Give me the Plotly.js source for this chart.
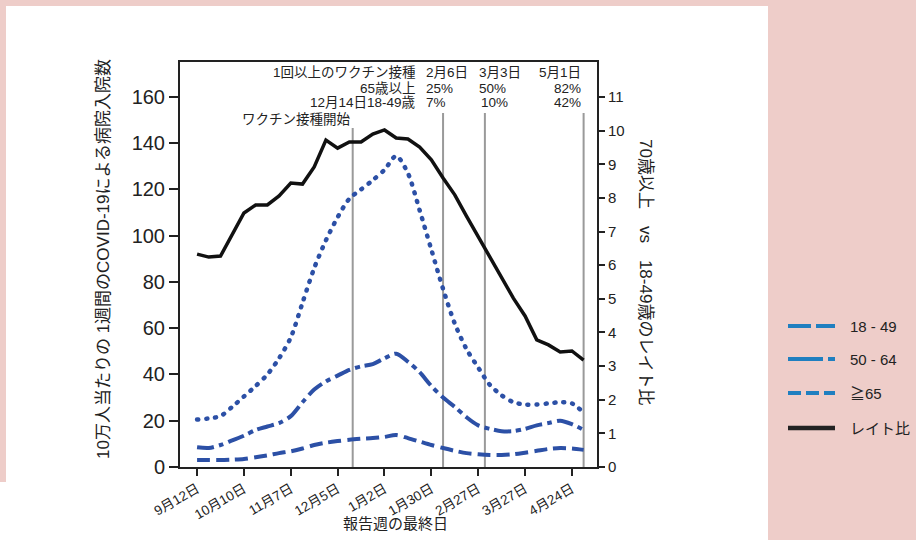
<!DOCTYPE html>
<html>
<head>
<meta charset="utf-8">
<script src="https://cdn.plot.ly/plotly-3.0.1.min.js"></script>
<style>
html,body{margin:0;padding:0;background:#eecdc9;}
#chart{width:916px;height:540px;}
.scatterlayer .trace:nth-child(3) .js-line{stroke-linecap:round;}
</style>
</head>
<body>
<div id="chart"></div>
<script>
// ---- data ----
const weeks = ['2020-09-12','2020-09-19','2020-09-26','2020-10-03','2020-10-10','2020-10-17','2020-10-24','2020-10-31',
  '2020-11-07','2020-11-14','2020-11-21','2020-11-28','2020-12-05','2020-12-12','2020-12-19','2020-12-26',
  '2021-01-02','2021-01-09','2021-01-16','2021-01-23','2021-01-30','2021-02-06','2021-02-13','2021-02-20',
  '2021-02-27','2021-03-06','2021-03-13','2021-03-20','2021-03-27','2021-04-03','2021-04-10','2021-04-17',
  '2021-04-24','2021-05-01'];
const age18_49 = [3,3,3,3.2,3.5,4.2,5,6,6.8,8, 9.5,10.5,11.2,11.8,12.2,12.5,13,13.8,12.5,11, 9.5,8.2,7,6,5.5,5.2,5.2,5.5,6.2,7, 7.8,8.2,8,7.4];
const age50_64 = [8.5,8.2,9.5,11.5,13.5,16,17.5,19,22,28, 33.5,37,39.5,42,43.5,44.5,47,49,45.5,41, 35,30,26,21.5,18,16.5,15.5,15.5,16.5,18, 19,20,18.5,16];
const age65 = [20.5,21,22,26,30.5,35,40,47,56,71, 86,98,108,116,120,124,128.5,134.5,127,111, 94,77,62,51,43,35.5,31,28,27,27, 27.5,28,27.5,23.5];
const rateRatio = [6.33,6.24,6.27,6.9,7.55,7.79,7.79,8.06,8.44,8.41, 8.92,9.72,9.48,9.66,9.66,9.90,10.02,9.78,9.75,9.51, 9.13,8.59,8.09,7.46,6.84,6.21,5.62,5.02,4.49,3.78, 3.63,3.42,3.45,3.18];

const tickDates = ['2020-09-12','2020-10-10','2020-11-07','2020-12-05','2021-01-02','2021-01-30','2021-02-27','2021-03-27','2021-04-24'];
const tickLabels = ['9月12日','10月10日','11月7日','12月5日','1月2日','1月30日','2月27日','3月27日','4月24日'];
const leftTicks = [0,20,40,60,80,100,120,140,160];
const rightTicks = [0,1,2,3,4,5,6,7,8,9,10,11];

const milestoneDates = ['2020-12-14','2021-02-06','2021-03-03','2021-05-01'];
const legendNames = ['18 - 49','50 - 64','≧65','レイト比'];

// ---- layout helpers (pixel -> paper) ----
const L=180, R=597, T=62, B=467;
const px = p => (p-L)/(R-L);
const py = p => (B-p)/(B-T);

const blue = '#2c50a6';
const latin = 'Liberation Sans, Arial, Noto Sans CJK JP, sans-serif';
const jp = 'Noto Sans CJK JP, sans-serif';

const traces = [
  {x:weeks, y:age18_49, type:'scatter', mode:'lines', name:legendNames[0], yaxis:'y',
   line:{color:blue, width:4, dash:'13px,6px', shape:'spline', smoothing:0.8}},
  {x:weeks, y:age50_64, type:'scatter', mode:'lines', name:legendNames[1], yaxis:'y',
   line:{color:blue, width:4, dash:'17px,5px,5px,5px', shape:'spline', smoothing:0.8}},
  {x:weeks, y:age65, type:'scatter', mode:'lines', name:legendNames[2], yaxis:'y',
   line:{color:blue, width:4.5, dash:'1px,8px', shape:'spline', smoothing:0.8}},
  {x:weeks, y:rateRatio, type:'scatter', mode:'lines', name:legendNames[3], yaxis:'y2',
   line:{color:'#111', width:3.5}}
];

const shapes = [
  // white panel
  {type:'rect', xref:'paper', yref:'paper', x0:px(6), x1:px(768), y0:py(540), y1:py(6), fillcolor:'#ffffff', line:{width:0}, layer:'below'},
  {type:'rect', xref:'paper', yref:'paper', x0:px(0), x1:px(7), y0:py(540), y1:py(482), fillcolor:'#ffffff', line:{width:0}, layer:'below'}
];
// milestone vertical lines
const lineTops = [py(128), py(113), py(113), py(113)];
milestoneDates.forEach((d,i)=>{
  shapes.push({type:'line', xref:'x', yref:'paper', x0:d, x1:d, y0:0, y1:lineTops[i], line:{color:'#9a9a9a', width:2}, layer:'below'});
});
// legend samples
const legY = [326, 359, 393, 428];
const legDash = ['23px,5px','35px,5px,7px,5px','13px,5px','solid'];
const legColor = ['#1f7fc0','#1f7fc0','#1f7fc0','#222222'];
legY.forEach((y,i)=>{
  shapes.push({type:'line', xref:'paper', yref:'paper', x0:px(788), x1:px(835), y0:py(y), y1:py(y), line:{color:legColor[i], width:i===3?4.5:4, dash:legDash[i]}});
});

const ann = [];
function txt(t, x, y, xa, size, fam, angle){
  ann.push({text:t, xref:'paper', yref:'paper', x:px(x), y:py(y), xanchor:xa||'center', yanchor:'middle',
    showarrow:false, font:{family:fam||latin, size:size||13, color:'#222'}, textangle:angle||0});
}
// vaccine annotations
txt('1回以上のワクチン接種', 418, 73, 'right', 13.5);
txt('65歳以上', 418, 88, 'right', 13.5);
txt('12月14日18-49歳', 418, 103, 'right', 13.5);
txt('ワクチン接種開始', 353, 120, 'right', 13.5);
txt('2月6日', 424, 73, 'left', 13.5);
txt('25%', 424, 88, 'left', 13.5);
txt('7%', 424, 103, 'left', 13.5);
txt('3月3日', 477, 73, 'left', 13.5);
txt('50%', 477, 88, 'left', 13.5);
txt('10%', 479, 103, 'left', 13.5);
txt('5月1日', 583, 73, 'right', 13.5);
txt('82%', 583, 88, 'right', 13.5);
txt('42%', 583, 103, 'right', 13.5);
// axis titles
txt('10万人当たりの 1週間のCOVID-19による病院入院数', 103, 259, 'center', 17, latin, -90);
txt('70歳以上　vs　18-49歳のレイト比', 646, 272, 'center', 17, latin, 90);
txt('報告週の最終日', 395, 522, 'center', 15, jp);
// legend labels
legY.forEach((y,i)=> txt(legendNames[i], 848, y, 'left', 15, latin));

const layout = {
  width:916, height:540,
  margin:{l:L, r:916-R, t:T, b:540-B, pad:0},
  paper_bgcolor:'#eecdc9', plot_bgcolor:'#ffffff',
  showlegend:false,
  xaxis:{type:'date', range:['2020-09-01 19:00','2021-05-09'], tickvals:tickDates, ticktext:tickLabels,
    tickangle:-30, ticks:'outside', ticklen:7, tickwidth:2, tickcolor:'#222',
    showline:true, linecolor:'#222', linewidth:2, mirror:true, showgrid:false, zeroline:false,
    tickfont:{family:latin, size:13.5, color:'#222'}},
  yaxis:{range:[0,175.1], tickvals:leftTicks, ticks:'outside', ticklen:9, tickwidth:2, tickcolor:'#222',
    showline:true, linecolor:'#222', linewidth:2, showgrid:false, zeroline:false,
    tickfont:{family:latin, size:20, color:'#222'}},
  yaxis2:{range:[0,12.04], tickvals:rightTicks, overlaying:'y', side:'right', ticks:'outside', ticklen:6, tickwidth:2, tickcolor:'#222',
    showline:true, linecolor:'#222', linewidth:2, showgrid:false, zeroline:false,
    tickfont:{family:latin, size:15, color:'#222'}},
  shapes:shapes,
  annotations:ann
};

Plotly.newPlot('chart', traces, layout, {displayModeBar:false, staticPlot:true});
</script>
</body>
</html>
